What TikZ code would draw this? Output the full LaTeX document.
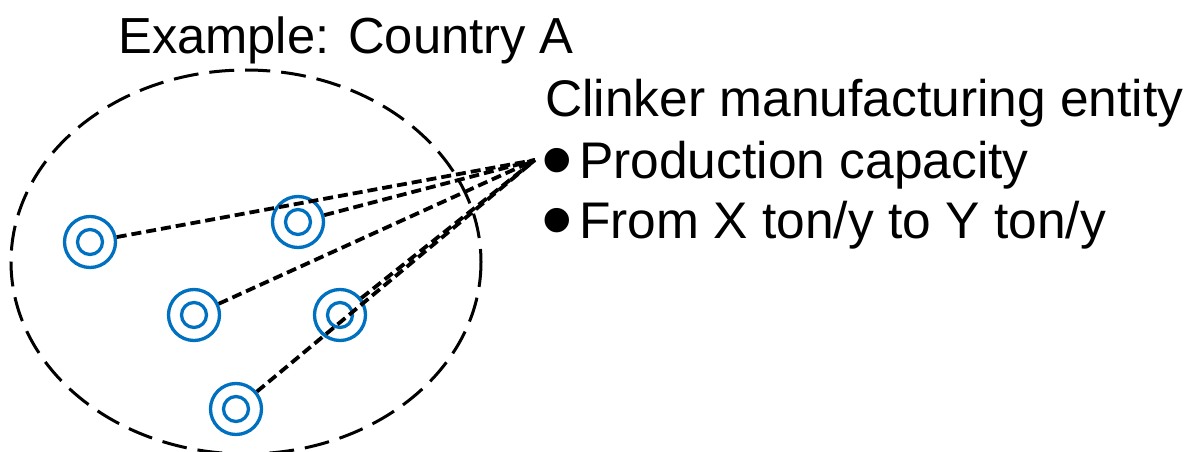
\documentclass[tikz,border=0pt]{standalone}
\usepackage{fontspec}
\setmainfont{Liberation Sans}
\definecolor{ringblue}{RGB}{0,112,192}
\newcommand{\bigbullet}{\makebox[37.75pt][l]{\makebox[31.5pt][c]{\raisebox{-12pt}{\scalebox{1.75}{•}}}}}
\begin{document}
\begin{tikzpicture}[x=1pt,y=-1pt,
  site/.style={circle,draw=ringblue,line width=3.3pt,minimum size=51pt,inner sep=0pt,
    append after command={\pgfextra{\draw[ringblue,line width=3.3pt] (\tikzlastnode.center) circle (12.5pt);}}},
  conn/.style={draw=black,line width=3.8pt,dash pattern=on 10pt off 5pt},
  region/.style={draw=black,line width=3pt,dash pattern=on 25pt off 11pt},
  lbl/.style={anchor=base west,inner sep=0pt,font=\fontsize{51.5}{60}\selectfont},
  ttl/.style={anchor=base west,inner sep=0pt,font=\fontsize{50.7}{60}\selectfont}]
\useasboundingbox (0,0) rectangle (1195,452);
\draw[region] (246,262) ellipse [x radius=235, y radius=192];
\node[site] (c1) at (90,242) {};
\node[site] (c2) at (298,222) {};
\node[site] (c3) at (194,315) {};
\node[site] (c4) at (340,315) {};
\node[site] (c5) at (236,409) {};
\coordinate (apex) at (535,160);
\foreach \n in {c1,c2,c3,c4,c5} \draw[conn] (\n) -- (apex);
\node[ttl] (title) at (118,54) {Example: Country A};
\node[lbl] (head) at (545,117) {Clinker manufacturing entity};
\node[lbl] (l1) at (541.25,178) {\bigbullet Production capacity};
\node[lbl] (l2) at (541.25,238) {\bigbullet From X ton/y to Y ton/y};
\end{tikzpicture}
\end{document}
